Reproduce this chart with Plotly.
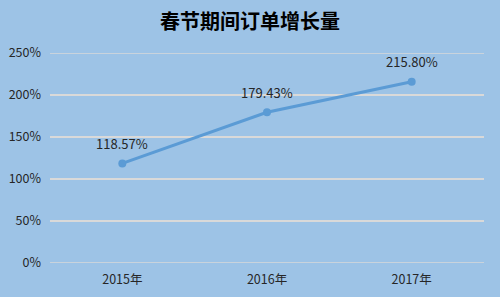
import plotly.graph_objects as go

categories = ["2015年", "2016年", "2017年"]
values = [118.57, 179.43, 215.80]
labels = ["118.57%", "179.43%", "215.80%"]
y_ticks = [0, 50, 100, 150, 200, 250]
y_tick_text = ["0%", "50%", "100%", "150%", "200%", "250%"]

bg = "#9DC3E6"
grid = "#D9D9D9"
fam = "Noto Sans CJK SC, sans-serif"
fig = go.Figure()
for yv in (y_ticks[0], y_ticks[-1]):
    fig.add_shape(type="line", xref="paper", x0=0, x1=1, yref="y", y0=yv, y1=yv,
                  line=dict(color=grid, width=1.5), layer="below")
fig.add_trace(go.Scatter(
    x=categories, y=values, mode="lines+markers",
    line=dict(color="#5B9BD5", width=3),
    marker=dict(color="#5B9BD5", size=8),
    cliponaxis=False, showlegend=False,
))
for c, v, t in zip(categories, values, labels):
    fig.add_annotation(x=c, y=v, text=t, showarrow=False, yshift=20,
                       font=dict(size=13, color="#262626", family=fam))
fig.update_layout(
    width=500, height=297,
    paper_bgcolor=bg, plot_bgcolor=bg,
    margin=dict(l=50, r=16, t=53, b=34, autoexpand=False),
    title=dict(text="<b>春节期间订单增长量</b>", x=0.5, xanchor="center", y=0.925, yanchor="middle",
               font=dict(size=20, color="#000000", family=fam)),
    font=dict(family=fam, size=12, color="#262626"),
    xaxis=dict(type="category", range=[-0.5, 2.5], showgrid=False, showline=False, automargin=False,
               ticks="", ticklabelstandoff=7, tickfont=dict(size=12.5, color="#262626")),
    yaxis=dict(range=[0, 250], tickvals=y_ticks, ticktext=y_tick_text, showgrid=True, automargin=False,
               gridcolor=grid, gridwidth=1.5, zeroline=False, showline=False,
               ticks="", ticklabelstandoff=8, tickfont=dict(size=12.5, color="#262626")),
)
fig.write_html("out.html")
